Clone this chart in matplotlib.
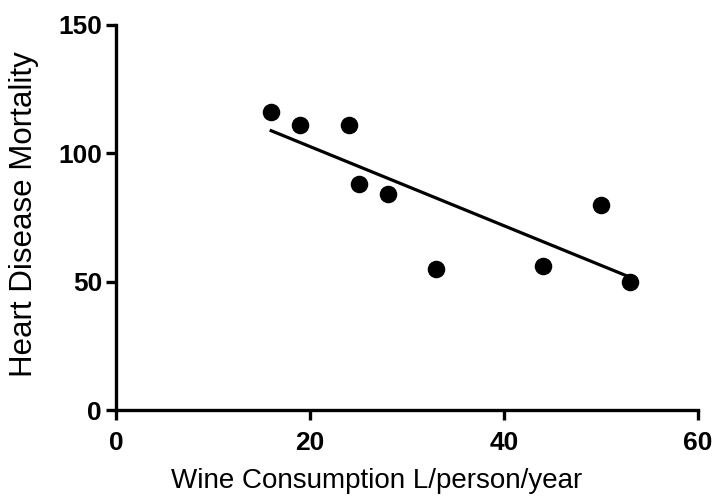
import numpy as np
import matplotlib.pyplot as plt

plt.rcParams['font.family'] = ['Liberation Sans', 'DejaVu Sans']

# wine consumption (L/person/year) vs heart disease mortality
wine = [16, 19, 24, 25, 28, 33, 44, 50, 53]
mortality = [116, 111, 111, 88, 84, 55, 56, 80, 50]
x_ticks = [0, 20, 40, 60]
y_ticks = [0, 50, 100, 150]

fig = plt.figure(figsize=(7.12, 4.99), dpi=100)
ax = fig.add_axes([116 / 712, 1 - 410 / 499, 582 / 712, 385 / 499])

ax.scatter(wine, mortality, s=135, color='black', zorder=3, clip_on=False)

# linear fit over the data range
z = np.polyfit(wine, mortality, 1)
p = np.poly1d(z)
xs = np.array([min(wine), max(wine)])
ax.plot(xs, p(xs), color='black', linewidth=2.3)

ax.set_xlim(0, 60)
ax.set_ylim(0, 150)
ax.set_xticks(x_ticks)
ax.set_yticks(y_ticks)

for side in ['top', 'right']:
    ax.spines[side].set_visible(False)
for side in ['left', 'bottom']:
    ax.spines[side].set_linewidth(2.4)
ax.tick_params(width=2.4, length=7, labelsize=19)
ax.tick_params(axis='x', pad=8)
ax.tick_params(axis='y', pad=3)
for lab in ax.get_xticklabels() + ax.get_yticklabels():
    lab.set_fontweight('bold')

ax.set_xlabel('Wine Consumption L/person/year', fontsize=20)
ax.set_ylabel('Heart Disease Mortality', fontsize=22.5)
ax.xaxis.set_label_coords(0.448, -0.15)
ax.yaxis.set_label_coords(-0.132, 0.51)

fig.savefig('out.png', dpi=100)
